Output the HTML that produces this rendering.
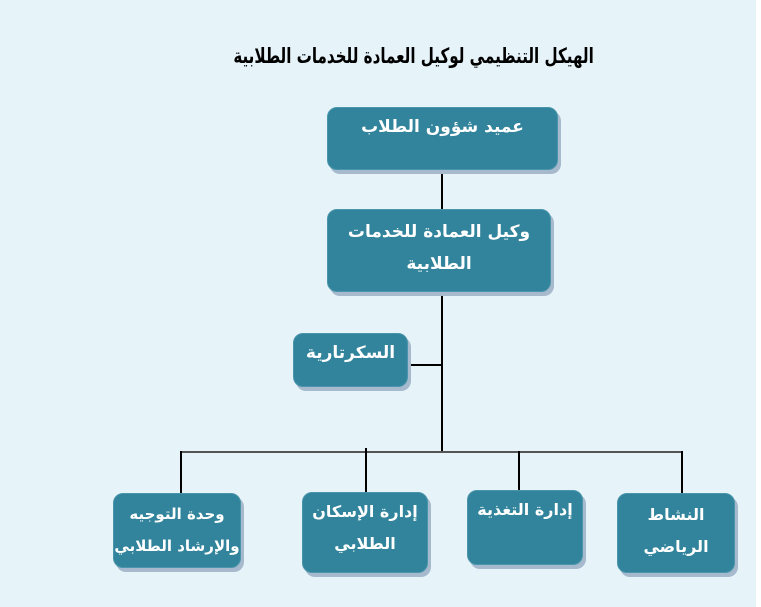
<!DOCTYPE html>
<html><head><meta charset="utf-8"><style>
body{margin:0;width:761px;height:607px;background:#fff;overflow:hidden;position:relative;font-family:"DejaVu Sans",sans-serif}
#bg{position:absolute;left:0;top:0;width:756px;height:607px;background:#e6f3f9}
.b{position:absolute;background:#31849b;border-radius:10px;box-shadow:3px 4px 0 #a7b9cc;border:1px solid #4a95ab;color:#fff;font-weight:bold;font-size:17px;text-align:center;direction:rtl;line-height:32px;box-sizing:border-box;white-space:nowrap}
.l{position:absolute;background:#000}
.t{position:absolute;left:200px;top:44px;width:430px;text-align:center;direction:rtl;font-weight:bold;font-size:21px;color:#000;white-space:nowrap;transform:translateX(24px) scaleX(0.72);transform-origin:215px 0}
</style></head><body><div id="bg"></div>
<div class="t">الهيكل التنظيمي لوكيل العمادة للخدمات الطلابية</div>
<div class="l" style="left:441px;top:170px;width:1.5px;height:40px"></div>
<div class="l" style="left:441px;top:292px;width:1.5px;height:159px"></div>
<div class="l" style="left:408px;top:364px;width:34px;height:1.5px"></div>
<div class="l" style="left:180px;top:451px;width:503px;height:1.5px;background:#555"></div>
<div class="l" style="left:180px;top:451px;width:1.5px;height:42px"></div>
<div class="l" style="left:365px;top:448px;width:1.5px;height:44px"></div>
<div class="l" style="left:518px;top:451px;width:1.5px;height:40px"></div>
<div class="l" style="left:681px;top:451px;width:1.5px;height:42px"></div>
<div class="b" style="left:327px;top:107px;width:231px;height:63px;padding-top:3px">عميد شؤون الطلاب</div>
<div class="b" style="left:327px;top:209px;width:224px;height:83px;padding-top:6px">وكيل العمادة للخدمات<br>الطلابية</div>
<div class="b" style="left:293px;top:333px;width:115px;height:54px;padding-top:3px">السكرتارية</div>
<div class="b" style="left:113px;top:493px;width:128px;height:75px;padding-top:4px;font-size:15px">وحدة التوجيه<br>والإرشاد الطلابي</div>
<div class="b" style="left:302px;top:492px;width:126px;height:81px;padding-top:3px;font-size:16px">إدارة الإسكان<br>الطلابي</div>
<div class="b" style="left:467px;top:490px;width:116px;height:75px;padding-top:3px;font-size:16px">إدارة التغذية</div>
<div class="b" style="left:617px;top:493px;width:118px;height:80px;padding-top:5px;font-size:16px">النشاط<br>الرياضي</div>
</body></html>
